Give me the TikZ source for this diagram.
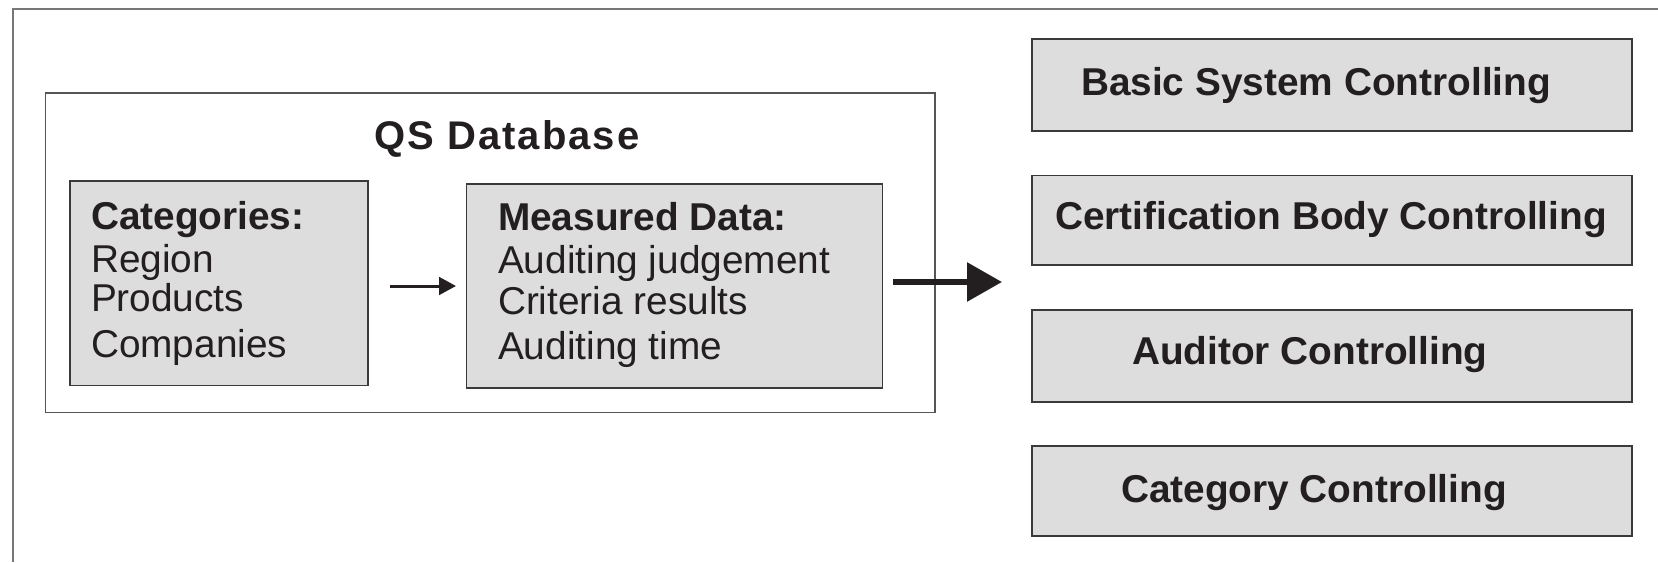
\documentclass[tikz,border=0pt]{standalone}
\usepackage{fontspec}
\setmainfont{Liberation Sans}
\newfontfamily\titlefont[LetterSpace=5]{Liberation Sans}
\usetikzlibrary{arrows.meta}

\definecolor{ink}{HTML}{231F20}
\definecolor{panelfill}{HTML}{DDDDDD}
\definecolor{paneledge}{HTML}{3A3A3A}
\definecolor{groupedge}{HTML}{555555}
\definecolor{frameedge}{HTML}{777777}

\begin{document}
\begin{tikzpicture}[x=0.5pt, y=-0.5pt,
  panel/.style={draw=paneledge, fill=panelfill, line width=0.75pt,
                inner sep=0pt, outer sep=0pt},
  group/.style={draw=groupedge, line width=0.7pt, inner sep=0pt, outer sep=0pt},
  label/.style={inner sep=0pt, outer sep=0pt, text=ink, anchor=base west,
                font=\fontsize{19.4pt}{23pt}\selectfont},
  heading/.style={label, font=\fontsize{19.4pt}{23pt}\selectfont\bfseries},
  thinarrow/.style={draw=ink, line width=1.5pt,
                    -{Triangle[length=8.5pt, width=8.8pt]}},
  thickarrow/.style={draw=ink, line width=3pt,
                     -{Triangle[length=17.5pt, width=19pt]}}]

\useasboundingbox (0,0) rectangle (1658,562);

% page frame (open to the right and bottom)
\draw[frameedge, line width=1pt] (12.5,562) -- (12.5,9) -- (1658,9);

% database group
\node[group, minimum width=444.75pt, minimum height=159.75pt] (db) at (490.25,252.75) {};
\node[inner sep=0pt, text=ink, anchor=base,
      font=\fontsize{20pt}{24pt}\titlefont\bfseries] (dbtitle) at (507,149) {QS Database};

% categories panel
\node[panel, minimum width=149pt, minimum height=102.25pt] (cat) at (219,283.25) {};
\node[heading] (cat0) at (91,229) {Categories:};
\node[label]   (cat1) at (91,272) {Region};
\node[label]   (cat2) at (91,311) {Products};
\node[label]   (cat3) at (91,357) {Companies};

% measured data panel
\node[panel, minimum width=208pt, minimum height=102pt] (meas) at (674.5,286) {};
\node[heading] (meas0) at (498,230) {Measured Data:};
\node[label]   (meas1) at (498,273) {Auditing judgement};
\node[label]   (meas2) at (498,314) {Criteria results};
\node[label]   (meas3) at (498,359) {Auditing time};

% controlling panels
\node[panel, minimum width=300pt, minimum height=46pt]   (basic) at (1332,85) {};
\node[panel, minimum width=300pt, minimum height=44.75pt] (cert) at (1332,220.25) {};
\node[panel, minimum width=300pt, minimum height=46pt]   (aud)  at (1332,356) {};
\node[panel, minimum width=300pt, minimum height=45pt]   (catc) at (1332,491) {};

\node[heading] (basict) at (1081,95)  {Basic System Controlling};
\node[heading] (certt)  at (1055,229) {Certification Body Controlling};
\node[heading] (audt)   at (1132,364) {Auditor Controlling};
\node[heading] (catct)  at (1121,502) {Category Controlling};

% flow arrows
\draw[thinarrow, shorten <=11pt, shorten >=5.25pt] (cat.east |- meas.west) -- (meas.west);
\coordinate (out) at (1002,282);
\draw[thickarrow, shorten <=5.25pt] (meas.east |- out) -- (out);

\end{tikzpicture}
\end{document}
